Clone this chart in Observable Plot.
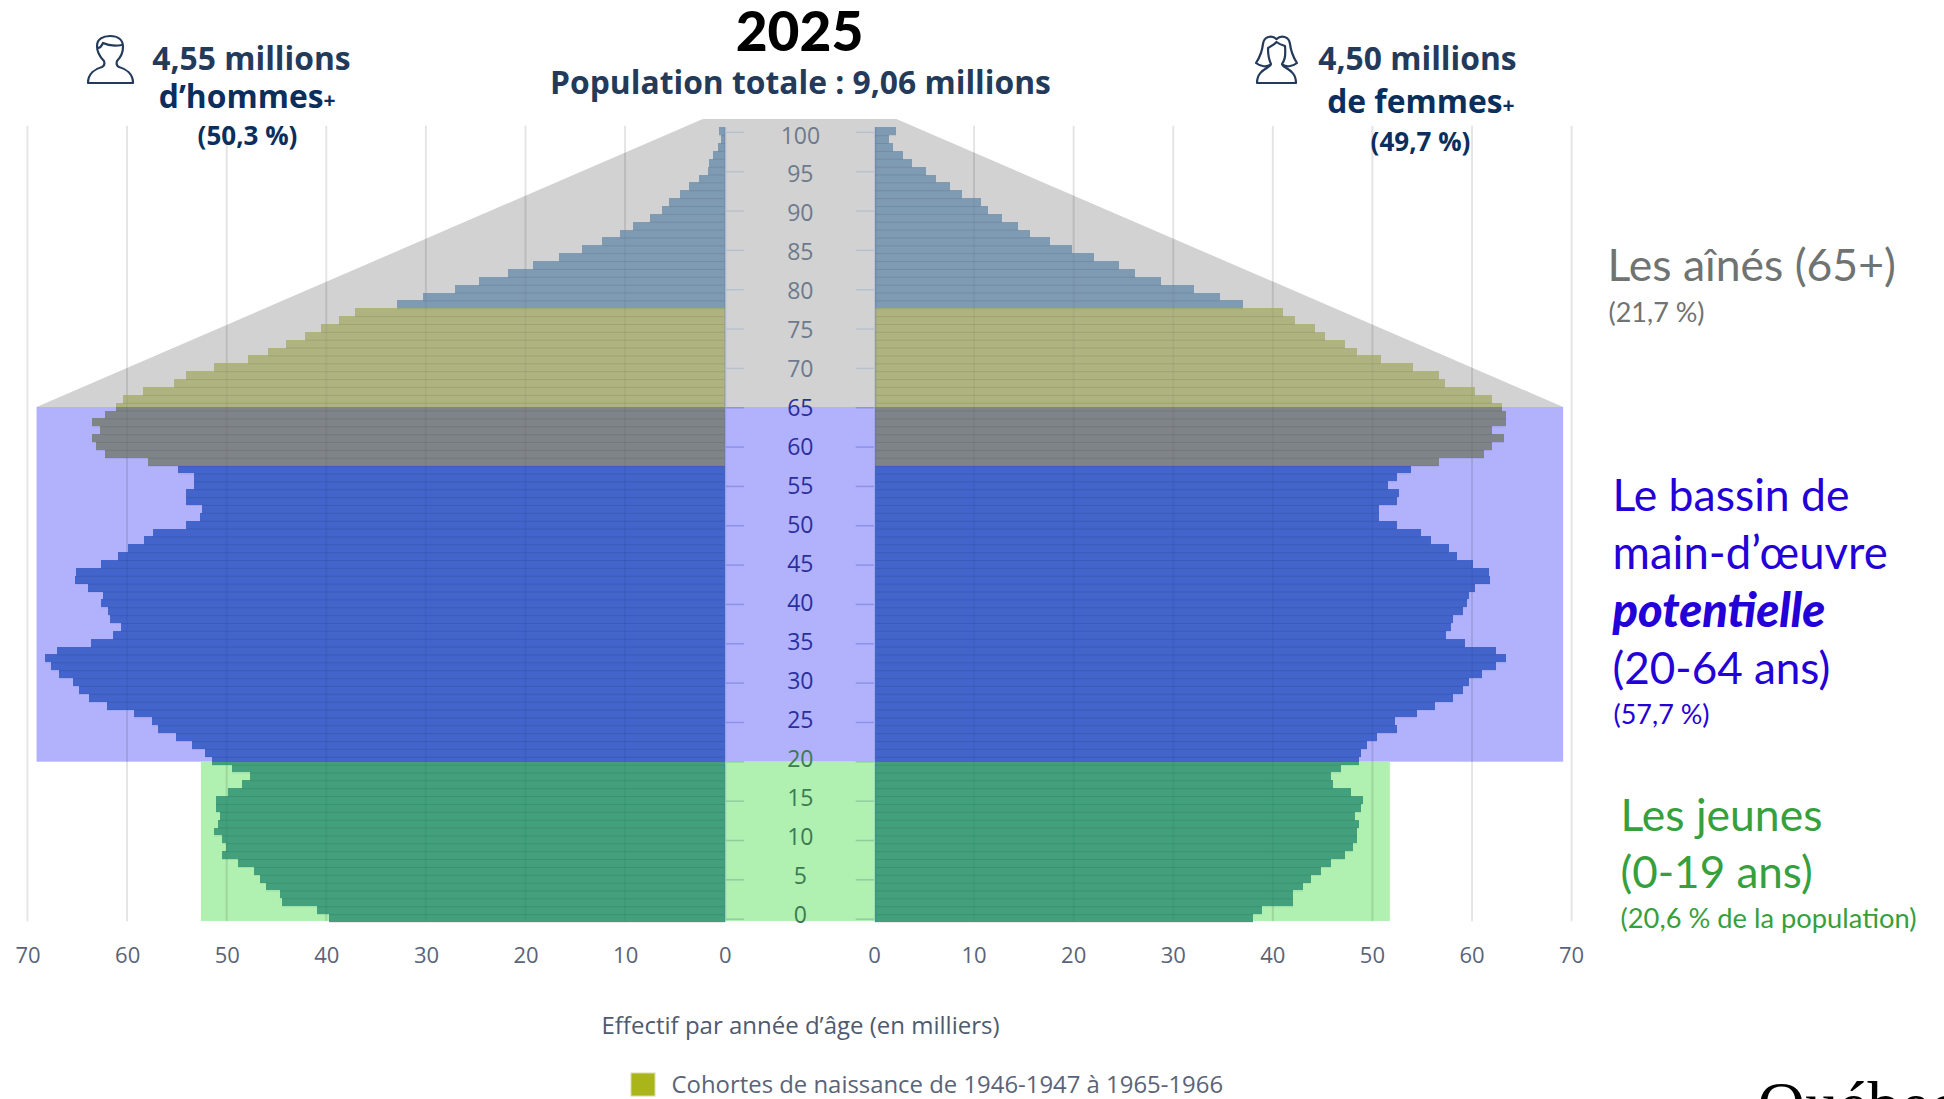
<!DOCTYPE html>
<html lang="fr">
<head>
<meta charset="utf-8">
<title>Pyramide des âges 2025</title>
<script src="https://cdn.jsdelivr.net/npm/d3@7"></script>
<script src="https://cdn.jsdelivr.net/npm/@observablehq/plot@0.6"></script>
<style>
html,body{margin:0;padding:0;background:#fff;overflow:hidden}
svg{display:block}
</style>
</head>
<body>
<div id="chart"></div>
<script>
// Effectif par année d'âge (milliers), de 100 ans à 0 an
const hommes = [0.6,0.35,0.7,1.15,1.55,1.7,2.6,3.55,4.5,5.55,6.3,7.55,9.2,10.55,12.35,14.35,16.6,19.3,21.75,24.7,27.1,30.3,32.9,
  37.15,38.75,40.5,42.1,44.05,45.9,47.9,51.25,54.1,55.25,58.45,60.45,61.1,62.25,63.5,62.7,63.5,63.1,62.25,57.9,
  54.9,53.25,53.25,54.05,54.05,52.5,52.7,54.05,57.45,58.3,59.9,60.9,62.65,65.1,65.2,63.9,62.45,62.65,61.9,61.7,60.65,61.4,63.65,
  67.0,68.25,67.6,66.8,65.4,64.85,63.85,62.05,59.3,57.5,56.9,55.1,53.5,52.15,51.5,
  49.5,47.65,48.5,49.9,51.05,51.05,50.7,50.9,51.25,50.5,50.1,50.5,48.9,47.3,46.7,46.1,44.7,44.5,40.9,39.7];
const femmes = [2.15,1.4,1.8,2.8,3.7,5.15,6.15,7.55,8.75,10.6,11.35,12.75,14.4,15.6,17.55,19.75,22,24.5,26.15,28.75,32,34.6,36.95,
  41,42.15,44.2,45.2,47.2,48.4,50.8,54,56.6,57.2,60.2,62,63,63.35,63.35,62,63.2,62,61.2,56.6,
  53.8,52.4,51.55,52.6,52.4,50.6,50.6,52.4,54.8,55.8,57.6,58.4,60,61.65,61.8,60.2,59.6,59.4,59,58,57.8,57.35,59.2,
  62.4,63.4,62.4,61,59.6,59,58,56.2,54.4,52.2,52.4,50.4,49.4,48.8,48.6,
  46.8,45.75,46,47.8,49,48.8,48.2,48.6,48.4,48.4,48,47.2,45.8,44.8,43.75,43,42,42,38.9,37.95];
const ageTicks = [100,95,90,85,80,75,70,65,60,55,50,45,40,35,30,25,20,15,10,5,0];
const xTicks = [0,10,20,30,40,50,60,70];

// Bandes d'arrière-plan
const gap = 7.54;
const splitAines = 65.45, splitJeunes = 20.37, topBand = 102.06, baseBand = 0.13;
const largeurActifs = 69.1, largeurJeunesH = 52.6, largeurJeunesF = 51.7, sommetH = 2.2, sommetF = 2.15;
const colorsBg = {aines:"#d2d2d2", actifs:"#b2b2fc", jeunes:"#b0f0b0"};
const colorsBar = {vieux:"#7f9ab3", cohorte:"#afb380", cohorteActifs:"#7f8489", actifs:"#4264cb", jeunes:"#42a07c"};
const tickColors = {aines:"#b8c2cf", actifs:"#8f90ea", jeunes:"#8fcda0"};
const labelColors = {aines:"#6c7a8c", actifs:"#2a2f9e", jeunes:"#3c7a52"};

const L = v => -(v + gap), R = v => v + gap;
const ages = d3.range(100, -1, -1);

function bandColor(mid) {
  if (mid >= 78) return colorsBar.vieux;
  if (mid >= splitAines) return colorsBar.cohorte;
  if (mid >= 58) return colorsBar.cohorteActifs;
  if (mid >= splitJeunes) return colorsBar.actifs;
  return colorsBar.jeunes;
}
const segments = [];
ages.forEach((a, i) => {
  const cuts = [a, ...[splitJeunes, splitAines].filter(s => s > a && s < a + 1), a + 1];
  for (let k = 0; k < cuts.length - 1; k++) {
    const color = bandColor((cuts[k] + cuts[k + 1]) / 2);
    segments.push({y1: cuts[k], y2: cuts[k + 1], x1: L(0), x2: L(hommes[i]), color});
    segments.push({y1: cuts[k], y2: cuts[k + 1], x1: R(0), x2: R(femmes[i]), color});
  }
});
const separators = ages.flatMap((a, i) => [
  {y: a, x1: L(0), x2: L(hommes[i])},
  {y: a, x1: R(0), x2: R(femmes[i])}
]);
const band = a => a >= 66 ? "aines" : a >= 21 ? "actifs" : "jeunes";
const fontO = '"Open Sans", sans-serif', fontL = 'Lato, sans-serif';

function label(text, x, y, o = {}) {
  return Plot.text([text], {
    text: d => d, frameAnchor: "top-left", dx: x, dy: y, lineAnchor: "bottom",
    textAnchor: o.anchor || "start", fontFamily: o.font || fontO, fontSize: o.size || 22,
    fontWeight: o.weight || 400, fontStyle: o.style || "normal", fill: o.fill || "#000"
  });
}

const navyA = "#243a5a", navyB = "#0a2f5c", blue = "#2400d8", green = "#36a03c", grey = "#6f7372";
const gridMarks = (opacity) => [
  Plot.ruleX(xTicks.slice(1).map(L), {y1: 0.1, y2: 101.2, stroke: "#000", strokeOpacity: opacity, strokeWidth: 2, dx: -0.6}),
  Plot.ruleX(xTicks.slice(1).map(R), {y1: 0.1, y2: 101.2, stroke: "#000", strokeOpacity: opacity, strokeWidth: 2, dx: -1})
];

const plot = Plot.plot({
  width: 1944, height: 1099,
  marginTop: 0, marginRight: 0, marginBottom: 0, marginLeft: 0,
  style: {background: "#fff", overflow: "hidden"},
  x: {axis: null, domain: [-80.31, 114.88], range: [0, 1944]},
  y: {axis: null, domain: [117.18, -22.5], range: [0, 1099]},
  color: {type: "identity"},
  marks: [
    // arrière-plans
    Plot.areaY([
      {x: L(largeurActifs), t: splitAines},
      {x: L(sommetH), t: topBand},
      {x: R(sommetF), t: topBand},
      {x: R(largeurActifs), t: splitAines}
    ], {x: "x", y1: splitAines, y2: "t", fill: colorsBg.aines}),
    Plot.rect([{}], {x1: L(largeurActifs), x2: R(largeurActifs), y1: splitJeunes, y2: splitAines, fill: colorsBg.actifs}),
    Plot.rect([{}], {x1: L(largeurJeunesH), x2: R(largeurJeunesF), y1: baseBand, y2: splitJeunes, fill: colorsBg.jeunes}),
    // grille sous les barres
    ...gridMarks(0.07),
    // barres
    Plot.rect(segments, {x1: "x1", x2: "x2", y1: "y1", y2: "y2", fill: "color", shapeRendering: "crispEdges"}),
    Plot.ruleY(separators, {y: "y", x1: "x1", x2: "x2", stroke: "#000", strokeOpacity: 0.09, strokeWidth: 1}),
    // bord intérieur
    Plot.ruleX([L(0), R(0)], {y1: 0, y2: 101, stroke: "#4a6fb0", strokeOpacity: 0.25, strokeWidth: 2}),
    // grille atténuée sur les barres
    ...gridMarks(0.035),
    // graduations centrales
    Plot.ruleY(ageTicks, {y: d => d + 0.42, x1: L(0) + 0.1, x2: L(0) + 1.93, stroke: d => tickColors[band(d)], strokeWidth: 1.5}),
    Plot.ruleY(ageTicks, {y: d => d + 0.42, x1: R(0) - 1.93, x2: R(0) - 0.1, stroke: d => tickColors[band(d)], strokeWidth: 1.5}),
    Plot.text(ageTicks, {x: 0, y: d => 0.89 + 0.9905 * d, text: d => String(d), fontFamily: fontO, fontSize: 23,
      fill: d => labelColors[band(d)], textAnchor: "middle"}),
    // axes horizontaux
    Plot.text(xTicks, {x: d => L(d), y: -4.25, text: d => String(d), fontFamily: fontO, fontSize: 22, fill: "#5a6478"}),
    Plot.text(xTicks, {x: d => R(d), y: -4.25, text: d => String(d), fontFamily: fontO, fontSize: 22, fill: "#5a6478", dx: -1}),
    label("Effectif par année d’âge (en milliers)", 800, 1033, {anchor: "middle", size: 24, fill: "#4e5a6e"}),
    // légende
    label("Cohortes de naissance de 1946-1947 à 1965-1966", 671, 1092, {size: 23.9, fill: "#5a6478"}),
    // titres
    label("2025", 799, 50, {anchor: "middle", font: fontL, size: 55, weight: 900}),
    label("Population totale : 9,06 millions", 800, 93, {anchor: "middle", size: 31.8, weight: 700, fill: navyA}),
    label("4,55 millions", 251, 69, {anchor: "middle", size: 31.8, weight: 700, fill: navyA}),
    label("d’hommes", 323, 107, {anchor: "end", size: 31.8, weight: 700, fill: navyB}),
    label("+", 323, 107, {size: 21, weight: 700, fill: navyB}),
    label("(50,3 %)", 247, 144, {anchor: "middle", size: 26, weight: 700, fill: navyB}),
    label("4,50 millions", 1417, 69, {anchor: "middle", size: 31.8, weight: 700, fill: navyA}),
    label("de femmes", 1502, 112, {anchor: "end", size: 31.8, weight: 700, fill: navyB}),
    label("+", 1502, 112, {size: 21, weight: 700, fill: navyB}),
    label("(49,7 %)", 1420, 150, {anchor: "middle", size: 26, weight: 700, fill: navyB}),
    // annotations à droite
    label("Les aînés (65+)", 1607, 280, {font: fontL, size: 44.5, fill: grey}),
    label("(21,7 %)", 1608, 321, {font: fontL, size: 27, fill: grey}),
    label("Le bassin de", 1612, 510, {font: fontL, size: 44.5, fill: blue}),
    label("main-d’œuvre", 1612, 568, {font: fontL, size: 45.5, fill: blue}),
    label("potentielle", 1612, 626, {font: fontL, size: 47, weight: 900, style: "italic", fill: blue}),
    label("(20-64 ans)", 1612, 683, {font: fontL, size: 44, fill: blue}),
    label("(57,7 %)", 1613, 723, {font: fontL, size: 27, fill: blue}),
    label("Les jeunes", 1620, 830, {font: fontL, size: 44.5, fill: green}),
    label("(0-19 ans)", 1620, 887, {font: fontL, size: 44, fill: green}),
    label("(20,6 % de la population)", 1620, 927, {font: fontL, size: 27.3, fill: green}),
    label("Québec", 1757, 1126, {font: '"Liberation Serif", serif', size: 66, fill: "#000"})
  ]
});

// Pictogrammes et pastille de légende
const svg = d3.select(plot);
const icon = (x, y, paths) => {
  const g = svg.append("g").attr("transform", `translate(${x},${y})`)
    .attr("fill", "none").attr("stroke", navyA).attr("stroke-width", 2.2)
    .attr("stroke-linejoin", "round").attr("stroke-linecap", "round");
  paths.forEach(d => g.append("path").attr("d", d));
};
icon(87, 36, [
  "M1,47H46C46,38 39,33 32,31C30,30 29,28 30,25C34,21 36,16 36,11C36,4 31,0 23,0C16,0 10,3 10,10C10,14 12,20 17,25C18,28 17,30 15,31C8,33 1,38 1,47Z",
  "M11,12C14,12 15,9 16,7C22,10 29,10 35,9"
]);
icon(1256, 36, [
  "M20.5,3C16,-1 8,0 7,8C6,16 4,21 0,27C5,31 11,31 14,29",
  "M20.5,3C25,-1 33,0 34,8C35,16 37,21 41,27C36,31 30,31 27,29",
  "M1,47H40C40,33 26,32 26,28C28,25 30,22 29,10C26,9 23,8 20.5,6C18,9 15,10 12,12C12,22 14,26 15,28C15,32 1,33 1,47Z"
]);
svg.append("rect").attr("x", 631).attr("y", 1073).attr("width", 24).attr("height", 23)
  .attr("fill", "#a9b518").attr("stroke", "#d8dca8").attr("stroke-width", 1);

document.getElementById("chart").append(plot);
</script>
</body>
</html>
